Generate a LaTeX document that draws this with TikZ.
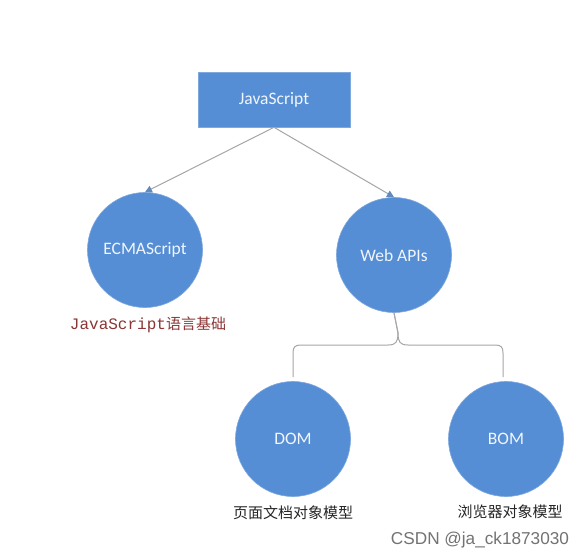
\documentclass[tikz,border=0pt]{standalone}
\usepackage{fontspec}
\setmainfont{Carlito}
\newfontfamily\cjk{Noto Sans CJK SC}
\newfontfamily\monof{Liberation Mono}
\newfontfamily\wmfont{Liberation Sans}
\usetikzlibrary{arrows.meta}
\definecolor{boxblue}{HTML}{558ED5}
\definecolor{edgeblue}{HTML}{7FA8DE}
\definecolor{linegray}{HTML}{A6A6A6}
\definecolor{labelred}{HTML}{8B3535}
\begin{document}
\begin{tikzpicture}[x=1pt,y=-1pt,
  shape box/.style={rectangle,fill=boxblue,draw=edgeblue,line width=0.6pt,minimum width=152pt,minimum height=55pt,text=white!92!boxblue,font=\fontsize{17.5}{19}\selectfont,inner sep=0pt},
  circ/.style={circle,fill=boxblue,draw=edgeblue,line width=0.6pt,minimum size=115pt,inner sep=0pt,text=white!92!boxblue,font=\fontsize{17.5}{19}\selectfont},
  conn/.style={draw=linegray,line width=1pt},
  arr/.style={conn,-{Triangle[length=7pt,width=7pt,fill=boxblue!70!gray,color=boxblue!70!gray]}},
  cnlabel/.style={font=\cjk\fontsize{15}{17}\selectfont,text=black!85,inner sep=0pt}]
\useasboundingbox (0,0) rectangle (587,559);
\fill[white] (0,0) rectangle (587,559);
\node[shape box] (js) at (274,99.5) {JavaScript};
\node[circ] (ecma) at (145,250) {ECMAScript};
\node[circ] (web) at (394,255) {Web APIs};
\node[circ] (dom) at (293,439) {DOM};
\node[circ] (bom) at (506,439) {BOM};
\draw[arr] (js.south) -- (ecma.north);
\draw[arr] (js.south) -- (web.north);
\node[inner sep=0pt,text=labelred] (ecmalabel) at (148,325) {\monof\fontsize{16}{18}\selectfont JavaScript\cjk\fontsize{15}{17}\selectfont 语言基础};
\node[cnlabel] (domlabel) at (293,513) {页面文档对象模型};
\node[cnlabel] (bomlabel) at (510,512) {浏览器对象模型};
\coordinate (bl) at (293,377);
\coordinate (br) at (503,377);
\draw[conn] (web.south) -- (398,333) .. controls (398,342) and (396,345) .. (388,345)
  -- (301,345) .. controls (295,345) and (293,347) .. (293,353) -- (bl);
\draw[conn] (web.south) -- (398,333) .. controls (398,342) and (400,345) .. (408,345)
  -- (495,345) .. controls (501,345) and (503,347) .. (503,353) -- (br);
\node[font=\wmfont\fontsize{17.2}{19}\selectfont,text=black!55,inner sep=0pt] (wm) at (480,540) {CSDN @ja\_ck1873030};
\end{tikzpicture}
\end{document}
